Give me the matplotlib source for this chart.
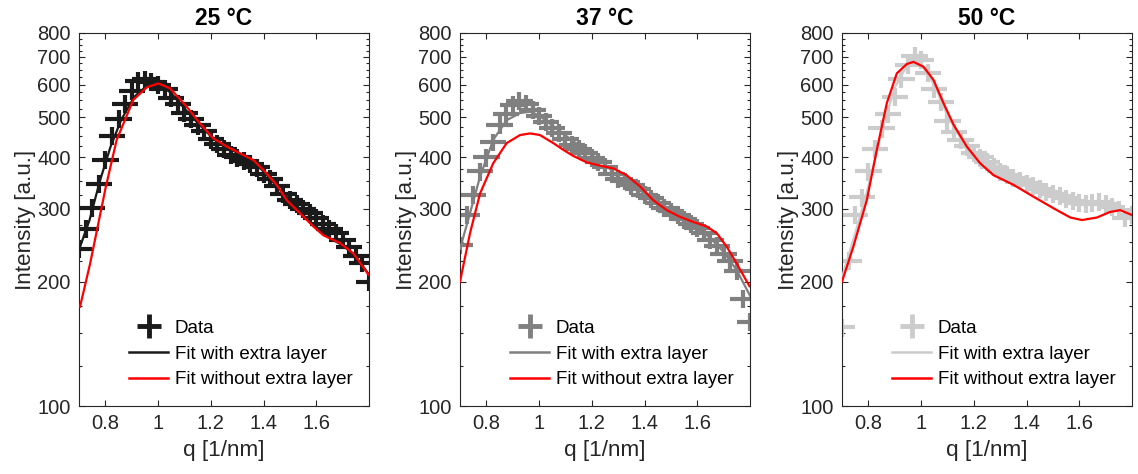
import numpy as np
import matplotlib
matplotlib.use('Agg')
import matplotlib.pyplot as plt
from matplotlib.lines import Line2D
from matplotlib.ticker import FixedLocator, NullFormatter

plt.rcParams['font.family'] = ['Liberation Sans', 'DejaVu Sans']

# measured points (same q grid for all three temperatures)
q_data = [0.70, 0.725, 0.75, 0.775, 0.80, 0.825, 0.85, 0.875, 0.90, 0.925,
          0.95, 0.975, 1.00, 1.025, 1.05, 1.075, 1.10, 1.125, 1.15, 1.175,
          1.20, 1.225, 1.25, 1.275, 1.30, 1.325, 1.35, 1.375, 1.40, 1.425,
          1.45, 1.475, 1.50, 1.525, 1.55, 1.575, 1.60, 1.625, 1.65, 1.675,
          1.70, 1.725, 1.75, 1.775, 1.80]

I_25 = [240, 268, 302, 345, 395, 450, 495, 540, 580, 612,
        618, 610, 600, 585, 558, 540, 512, 495, 478, 462,
        442, 432, 420, 406, 400, 393, 385, 378, 365, 354,
        340, 326, 316, 309, 300, 294, 285, 276, 268, 262,
        252, 242, 231, 222, 200]

I_37 = [245, 290, 325, 370, 400, 435, 480, 510, 535, 548,
        540, 522, 505, 488, 472, 458, 442, 428, 420, 410,
        398, 390, 380, 365, 355, 350, 342, 335, 325, 318,
        310, 302, 296, 290, 283, 276, 270, 262, 252, 244,
        234, 224, 212, 182, 160]

I_50 = [155, 225, 290, 320, 370, 420, 470, 510, 560, 620,
        670, 705, 690, 640, 585, 545, 490, 460, 440, 425,
        410, 400, 390, 380, 370, 362, 356, 352, 346, 342,
        336, 330, 326, 322, 318, 314, 310, 308, 310, 312,
        308, 304, 298, 285, 290]

q_err = 0.05
I_err_rel = 0.05

# fit with extra layer
qf_25 = [0.70, 0.74, 0.78, 0.82, 0.86, 0.91, 0.96, 1.00, 1.05, 1.10, 1.15, 1.20,
         1.25, 1.30, 1.35, 1.40, 1.45, 1.50, 1.55, 1.60, 1.65, 1.70, 1.75, 1.80]
fit_25 = [239, 282, 352, 425, 493, 561, 598, 604, 572, 525, 485, 450,
          428, 410, 395, 370, 340, 315, 290, 270, 255, 245, 230, 208]

qf_37 = [0.70, 0.738, 0.776, 0.826, 0.877, 0.928, 0.966, 1.00, 1.05, 1.10, 1.15,
         1.20, 1.25, 1.30, 1.35, 1.40, 1.45, 1.50, 1.55, 1.60, 1.65, 1.70, 1.75, 1.80]
fit_37 = [240, 293, 359, 441, 492, 512, 516, 505, 478, 452, 428,
          405, 385, 358, 343, 327, 311, 297, 284, 270, 255, 236, 213, 185]

qf_50 = [0.70, 0.75, 0.80, 0.85, 0.90, 0.95, 0.975, 1.00, 1.05, 1.10, 1.15, 1.20,
         1.25, 1.30, 1.35, 1.40, 1.45, 1.50, 1.55, 1.60, 1.65, 1.70, 1.75, 1.80]
fit_50 = [205, 262, 340, 460, 590, 672, 688, 672, 600, 505, 445, 410,
          390, 372, 357, 346, 336, 326, 318, 311, 308, 306, 300, 292]

# fit without extra layer
qr_25 = [0.704, 0.742, 0.802, 0.843, 0.906, 0.957, 1.001, 1.045, 1.109, 1.159,
         1.209, 1.260, 1.311, 1.361, 1.399, 1.450, 1.488, 1.538, 1.589, 1.627,
         1.690, 1.741, 1.798]
red_25 = [174, 221, 340, 441, 551, 591, 604, 588, 530, 483,
          445, 425, 409, 394, 373, 343, 315, 293, 272, 259,
          248, 234, 208]

qr_37 = [0.70, 0.738, 0.776, 0.826, 0.877, 0.928, 0.966, 1.003, 1.054, 1.092,
         1.13, 1.18, 1.231, 1.282, 1.332, 1.383, 1.433, 1.484, 1.535, 1.585,
         1.636, 1.674, 1.712, 1.750, 1.798]
red_37 = [200, 262, 327, 387, 433, 453, 457, 453, 433, 417,
          403, 389, 382, 376, 362, 340, 315, 298, 287, 279,
          272, 262, 243, 221, 195]

qr_50 = [0.70, 0.743, 0.794, 0.832, 0.870, 0.908, 0.946, 0.971, 1.009, 1.047,
         1.085, 1.123, 1.173, 1.224, 1.275, 1.351, 1.427, 1.503, 1.566, 1.61,
         1.667, 1.717, 1.755, 1.80]
red_50 = [200, 243, 315, 417, 541, 639, 673, 681, 663, 616,
          541, 480, 425, 387, 362, 343, 321, 301, 286, 282,
          286, 295, 298, 290]

titles = ['25 °C', '37 °C', '50 °C']
colors = ['#1a1a1a', '#808080', '#cccccc']
y_ticks = [100, 200, 300, 400, 500, 600, 700, 800]
y_minor = [v for v in range(125, 800, 25) if v % 100]
x_ticks = [0.8, 1.0, 1.2, 1.4, 1.6]
x_ticklabels = ['0.8', '1', '1.2', '1.4', '1.6']

panels = [(I_25, qf_25, fit_25, qr_25, red_25),
          (I_37, qf_37, fit_37, qr_37, red_37),
          (I_50, qf_50, fit_50, qr_50, red_50)]

txt = '#262626'
fig = plt.figure(figsize=(11.38, 4.74), dpi=100)
lefts = [79, 460, 842]

for i, (I, qf, fit, qr, red) in enumerate(panels):
    ax = fig.add_axes([lefts[i] / 1138, 68 / 474, 290 / 1138, 373 / 474])
    c = colors[i]
    I = np.array(I, dtype=float)
    ax.errorbar(q_data, I, xerr=q_err, yerr=I * I_err_rel, fmt='none',
                ecolor=c, elinewidth=3.0, capsize=0, zorder=2)
    ax.plot(qf, fit, color=c, lw=1.6, zorder=3)
    ax.plot(qr, red, color='#ff0000', lw=1.6, zorder=4)

    ax.set_yscale('log')
    ax.set_xlim(0.7, 1.8)
    ax.set_ylim(100, 800)
    ax.yaxis.set_major_locator(FixedLocator(y_ticks))
    ax.set_yticklabels([str(v) for v in y_ticks])
    ax.yaxis.set_minor_locator(FixedLocator(y_minor))
    ax.yaxis.set_minor_formatter(NullFormatter())
    ax.set_xticks(x_ticks)
    ax.set_xticklabels(x_ticklabels)
    ax.tick_params(which='both', direction='in', top=True, right=True,
                   colors=txt, labelsize=14.5, width=0.8)
    ax.tick_params(which='major', length=4.5, pad=6)
    ax.tick_params(which='minor', length=2.5)
    for s in ax.spines.values():
        s.set_color(txt)
        s.set_linewidth(0.8)

    ax.set_title(titles[i], fontsize=16.5, fontweight='bold', color='black', pad=6)
    ax.set_xlabel('q [1/nm]', fontsize=16.2, color=txt, labelpad=5)
    ax.set_ylabel('Intensity [a.u.]', fontsize=16.2, color=txt, labelpad=1)

    handles = [Line2D([], [], color=c, marker='+', markersize=17, mew=3.5, ls='none'),
               Line2D([], [], color=c, lw=1.8),
               Line2D([], [], color='#ff0000', lw=1.8)]
    ax.legend(handles, ['Data', 'Fit with extra layer', 'Fit without extra layer'],
              loc='lower left', bbox_to_anchor=(0.14, 0.022), frameon=False,
              fontsize=13.5, handlelength=2.1, handletextpad=0.35,
              labelspacing=0.46, borderpad=0, labelcolor='black')

fig.savefig('out.png', dpi=100)
